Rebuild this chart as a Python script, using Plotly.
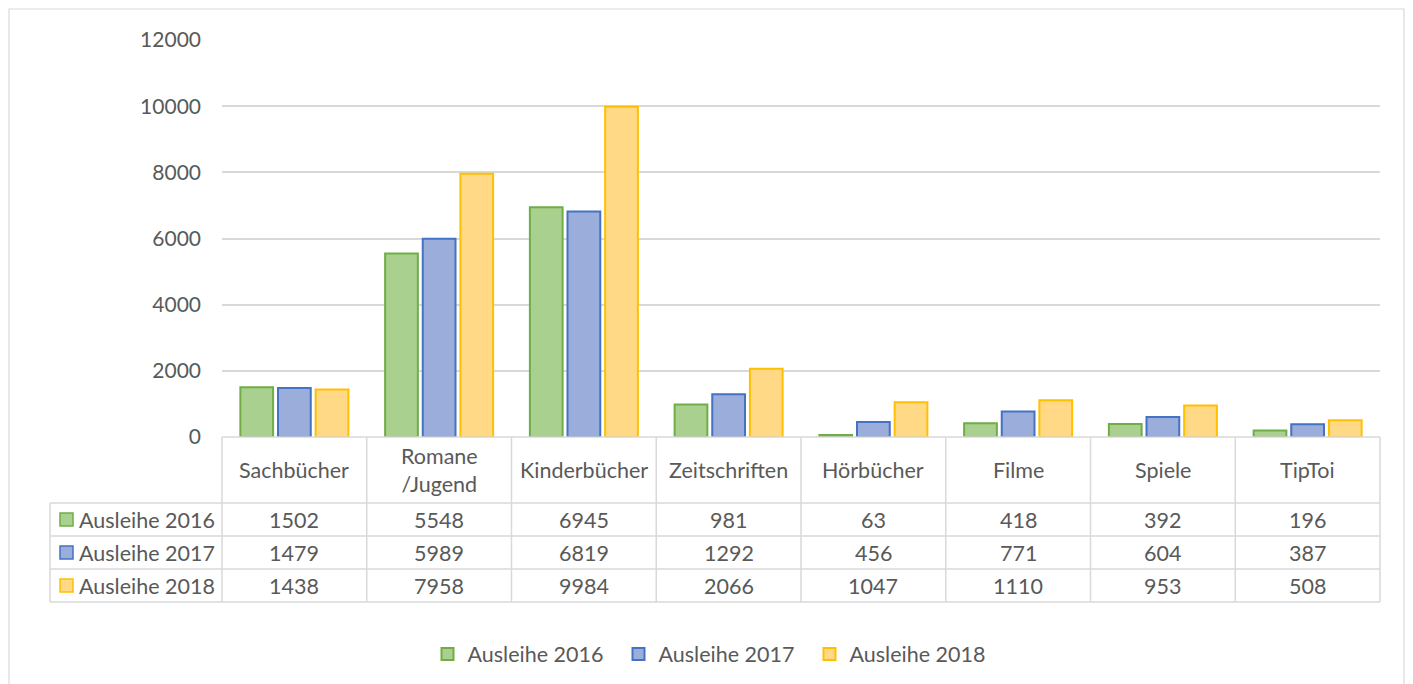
import plotly.graph_objects as go

categories = ["Sachbücher", "Romane<br>/Jugend", "Kinderbücher", "Zeitschriften", "Hörbücher", "Filme", "Spiele", "TipToi"]
series_names = ["Ausleihe 2016", "Ausleihe 2017", "Ausleihe 2018"]
ausleihe_2016 = [1502, 5548, 6945, 981, 63, 418, 392, 196]
ausleihe_2017 = [1479, 5989, 6819, 1292, 456, 771, 604, 387]
ausleihe_2018 = [1438, 7958, 9984, 2066, 1047, 1110, 953, 508]
y_ticks = [0, 2000, 4000, 6000, 8000, 10000, 12000]

series_values = [ausleihe_2016, ausleihe_2017, ausleihe_2018]
fills = ["#aad08f", "#9badda", "#ffd985"]
lines = ["#70ad47", "#4472c4", "#ffc000"]

W, H = 1413, 684
L, R, T, B = 222, 1380, 40, 437
FONT = "Lato"
FS = 21.5
TXT = "#595959"
GRID = "#d9d9d9"

def px(x):
    return (x - L) / (R - L)

def py(y):
    return (B - y) / (B - T)

fig = go.Figure()
xs = list(range(len(categories)))
for name, vals, f, lc in zip(series_names, series_values, fills, lines):
    fig.add_trace(go.Bar(x=xs, y=vals, name=name,
                         marker=dict(color=f, line=dict(color=lc, width=2))))

shapes = []
annots = []
# outer border
shapes.append(dict(type="rect", xref="paper", yref="paper", x0=px(9), x1=px(1404), y0=py(700), y1=py(9),
                   line=dict(color=GRID, width=1.2), layer="below"))
# table
row_tops = [437, 503, 536, 569, 602]
n = len(categories)
col_w = (R - L) / n
for i in range(n + 1):
    xpos = L + i * col_w
    shapes.append(dict(type="line", xref="paper", yref="paper", x0=px(xpos), x1=px(xpos), y0=py(437), y1=py(602),
                       line=dict(color=GRID, width=1.5)))
shapes.append(dict(type="line", xref="paper", yref="paper", x0=px(50), x1=px(50), y0=py(503), y1=py(602),
                   line=dict(color=GRID, width=1.5)))
for yy in row_tops[1:]:
    shapes.append(dict(type="line", xref="paper", yref="paper", x0=px(50), x1=px(R), y0=py(yy), y1=py(yy),
                       line=dict(color=GRID, width=1.5)))
shapes.append(dict(type="line", xref="paper", yref="paper", x0=px(L), x1=px(R), y0=py(437), y1=py(437),
                   line=dict(color=GRID, width=1.5)))

for i, c in enumerate(categories):
    cx = L + (i + 0.5) * col_w
    annots.append(dict(x=px(cx), y=py(470), xref="paper", yref="paper", text=c, showarrow=False,
                       xanchor="center", yanchor="middle",
                       font=dict(family=FONT, size=FS, color=TXT), align="center"))
for r, (name, vals, f, lc) in enumerate(zip(series_names, series_values, fills, lines)):
    cy = (row_tops[r + 1] + row_tops[r + 2]) / 2
    shapes.append(dict(type="rect", xref="paper", yref="paper", x0=px(60), x1=px(73), y0=py(cy + 6.5), y1=py(cy - 6.5),
                       fillcolor=f, line=dict(color=lc, width=1.5)))
    annots.append(dict(x=px(77), y=py(cy), xref="paper", yref="paper", text=name, showarrow=False,
                       xanchor="left", yanchor="middle", font=dict(family=FONT, size=FS, color=TXT)))
    for i, v in enumerate(vals):
        cx = L + (i + 0.5) * col_w
        annots.append(dict(x=px(cx), y=py(cy), xref="paper", yref="paper", text=str(v), showarrow=False,
                           xanchor="center", yanchor="middle",
                           font=dict(family=FONT, size=FS, color=TXT)))

fig.update_layout(
    width=W, height=H,
    margin=dict(l=L, r=W - R, t=T, b=H - B, autoexpand=False),
    paper_bgcolor="white", plot_bgcolor="white",
    barmode="group", bargap=0.22, bargroupgap=0.13,
    shapes=shapes, annotations=annots,
    font=dict(family=FONT, size=FS, color=TXT),
    showlegend=True,
    legend=dict(orientation="h", x=px(714), xanchor="center", y=py(654), yanchor="middle",
                font=dict(family=FONT, size=FS, color=TXT), itemwidth=30, tracegroupgap=0,
                entrywidth=146, entrywidthmode="pixels"),
)
fig.update_xaxes(range=[-0.5, n - 0.5], showticklabels=False, showgrid=False, zeroline=False, showline=False, ticks="")
fig.update_yaxes(range=[0, 12000], tickvals=y_ticks, ticktext=[str(t) for t in y_ticks],
                 showgrid=True, gridcolor=GRID, gridwidth=1.5,
                 zeroline=False, showline=False, ticklabelstandoff=20,
                 tickfont=dict(family=FONT, size=21, color=TXT))

fig.write_html("out.html", config={"displayModeBar": False},
               post_script="document.body.style.margin='0';document.body.style.overflow='hidden';")
